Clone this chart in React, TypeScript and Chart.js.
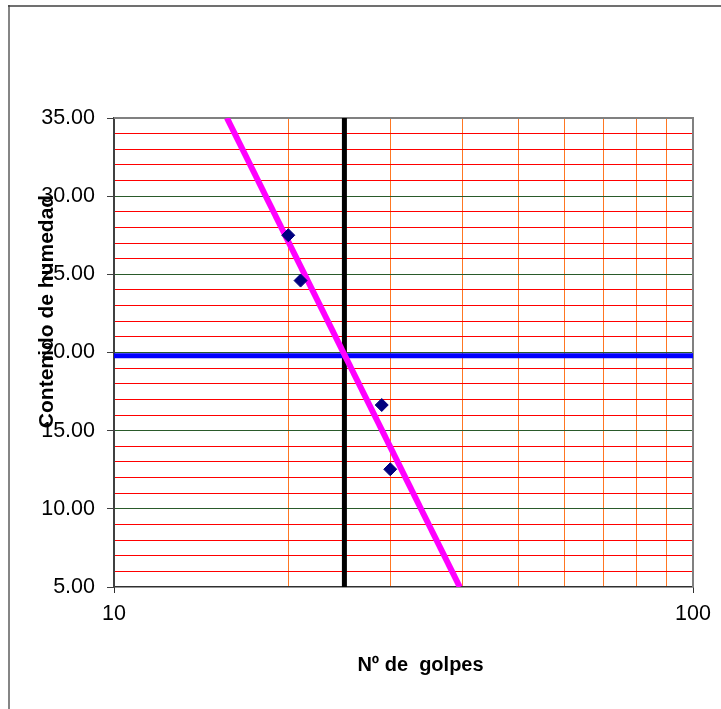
import React, { useEffect, useRef } from "react";
import { Chart, registerables } from "chart.js";

Chart.register(...registerables);

const FONT = '"Liberation Sans", Arial, Helvetica, sans-serif';

// Data
const golpes = [20, 21, 29, 30];
const humedad = [27.5, 24.6, 16.64, 12.53];
const trendGolpes = [15.67, 39.56];
const trendHumedad = [35, 5];
const limiteGolpes = 25;
const limiteLiquido = 19.8;
const xRange = [10, 100];
const yRange = [5, 35];
const xGridValues = [10, 20, 30, 40, 50, 60, 70, 80, 90, 100];
const xTickLabels = [10, 100];
const yMajorStep = 5;
const xTitle = "Nº de  golpes";
const yTitle = "Contenido de humedad";

const decorPlugin = {
  id: "decor",
  beforeDraw(chart: any) {
    const ctx = chart.ctx;
    ctx.save();
    ctx.strokeStyle = "#858585";
    ctx.lineWidth = 2;
    ctx.beginPath();
    ctx.moveTo(9, 5);
    ctx.lineTo(9, chart.height);
    ctx.stroke();
    ctx.strokeStyle = "#404040";
    ctx.lineWidth = 1.5;
    ctx.beginPath();
    ctx.moveTo(8, 6);
    ctx.lineTo(chart.width, 6);
    ctx.stroke();
    ctx.restore();
  },
  beforeDatasetsDraw(chart: any) {
    const { ctx, chartArea } = chart;
    ctx.save();
    ctx.strokeStyle = "#808080";
    ctx.lineWidth = 2;
    ctx.beginPath();
    ctx.moveTo(chartArea.left, chartArea.top);
    ctx.lineTo(chartArea.right, chartArea.top);
    ctx.lineTo(chartArea.right, chartArea.bottom);
    ctx.stroke();
    ctx.restore();
  },
  afterDraw(chart: any) {
    const ctx = chart.ctx;
    ctx.save();
    ctx.fillStyle = "#000";
    ctx.font = `bold 20px ${FONT}`;
    ctx.textAlign = "center";
    ctx.textBaseline = "alphabetic";
    ctx.fillText(xTitle, 420.5, 671);
    ctx.translate(53, 311.5);
    ctx.rotate(-Math.PI / 2);
    ctx.font = `bold 21px ${FONT}`;
    ctx.fillText(yTitle, 0, 0);
    ctx.restore();
  },
};

export default function App() {
  const ref = useRef<HTMLCanvasElement | null>(null);

  useEffect(() => {
    if (!ref.current) return;
    const points = golpes.map((g, i) => ({ x: g, y: humedad[i] }));
    const trend = trendGolpes.map((g, i) => ({ x: g, y: trendHumedad[i] }));
    const chart = new Chart(ref.current, {
      type: "scatter",
      data: {
        datasets: [
          {
            label: "Puntos",
            data: points,
            pointStyle: "rectRot",
            pointRadius: 6.5,
            backgroundColor: "#000080",
            borderColor: "#000080",
            borderWidth: 1,
            order: 0,
          },
          {
            label: "Tendencia",
            data: trend,
            showLine: true,
            borderColor: "#FF00FF",
            borderWidth: 6,
            pointRadius: 0,
            order: 1,
          },
          {
            label: "LL",
            data: [
              { x: xRange[0], y: limiteLiquido },
              { x: xRange[1], y: limiteLiquido },
            ],
            showLine: true,
            borderColor: "#0000FF",
            borderWidth: 5,
            pointRadius: 0,
            clip: { left: 0, top: 0, right: 3, bottom: 0 },
            order: 2,
          },
          {
            label: "25 golpes",
            data: [
              { x: limiteGolpes, y: yRange[0] },
              { x: limiteGolpes, y: yRange[1] },
            ],
            showLine: true,
            borderColor: "#000000",
            borderWidth: 5,
            pointRadius: 0,
            order: 3,
          },
        ],
      } as any,
      options: {
        animation: false,
        responsive: true,
        maintainAspectRatio: false,
        devicePixelRatio: 1,
        layout: { padding: { left: 0, top: 118, right: 28, bottom: 0 } },
        plugins: {
          legend: { display: false },
          tooltip: { enabled: false },
          title: { display: false },
        },
        scales: {
          x: {
            type: "logarithmic",
            min: xRange[0],
            max: xRange[1],
            position: "bottom",
            afterBuildTicks(s: any) {
              s.ticks = xGridValues.map((v) => ({ value: v, major: false }));
            },
            afterFit(s: any) {
              s.height = 122;
            },
            border: { display: true, color: "#303030", width: 1.5 },
            grid: {
              color: (c: any) => {
                const v = c.tick ? c.tick.value : 0;
                return v === xRange[0] || v === xRange[1] ? "rgba(0,0,0,0)" : "#FF7722";
              },
              lineWidth: 1,
              tickLength: 6,
              tickColor: (c: any) => {
                const v = c.tick ? c.tick.value : 0;
                return xTickLabels.includes(v) ? "#303030" : "rgba(0,0,0,0)";
              },
            },
            ticks: {
              autoSkip: false,
              maxRotation: 0,
              minRotation: 0,
              padding: 8.5,
              color: "#000",
              font: { family: FONT, size: 21.5 },
              callback: (v: any) => (xTickLabels.includes(Number(v)) ? String(v) : ""),
            },
          },
          y: {
            type: "linear",
            min: yRange[0],
            max: yRange[1],
            afterFit(s: any) {
              s.width = 114;
            },
            border: { display: true, color: "#404040", width: 2 },
            grid: {
              color: (c: any) => {
                const v = c.tick ? c.tick.value : 0;
                if (v === yRange[0] || v === yRange[1]) return "rgba(0,0,0,0)";
                return v % yMajorStep === 0 ? "#2A5A2A" : "#FF0000";
              },
              lineWidth: 1,
              tickLength: 7,
              tickColor: (c: any) => {
                const v = c.tick ? c.tick.value : 0;
                return v % yMajorStep === 0 ? "#404040" : "rgba(0,0,0,0)";
              },
            },
            ticks: {
              stepSize: 1,
              autoSkip: false,
              padding: 12,
              color: "#000",
              font: { family: FONT, size: 21.5 },
              callback: (v: any) => (Number(v) % yMajorStep === 0 ? Number(v).toFixed(2) : ""),
            },
          },
        },
      } as any,
      plugins: [decorPlugin],
    });
    return () => chart.destroy();
  }, []);

  return (
    <div style={{ position: "fixed", left: 0, top: 0, width: 721, height: 709, background: "#fff" }}>
      <canvas ref={ref} />
    </div>
  );
}
